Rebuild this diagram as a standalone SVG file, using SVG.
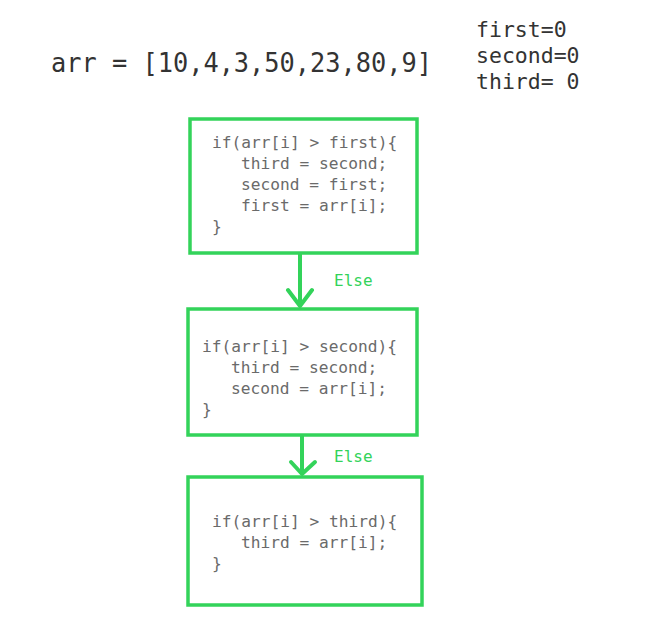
<svg xmlns="http://www.w3.org/2000/svg" width="647" height="631" viewBox="0 0 647 631">
<style>
.box{fill:#ffffff;stroke:#33d35a;stroke-width:3.5}
.code{font-family:"DejaVu Sans Mono","Liberation Mono",monospace;font-size:16.2px;fill:#6a6a6a}
.hdr{font-family:"DejaVu Sans Mono","Liberation Mono",monospace;fill:#333333}
.lbl{font-family:"DejaVu Sans Mono","Liberation Mono",monospace;font-size:16px;fill:#33d35a}
.conn{fill:none;stroke:#33d35a;stroke-width:4;stroke-linecap:round;stroke-linejoin:round}
</style>
<rect width="647" height="631" fill="#ffffff"/>
<g id="header">
<text class="hdr" x="51" y="72" font-size="26" textLength="381" lengthAdjust="spacingAndGlyphs">arr = [10,4,3,50,23,80,9]</text>
<text class="hdr" x="476" y="37" font-size="21.5">first=0</text>
<text class="hdr" x="476" y="63" font-size="21.5">second=0</text>
<text class="hdr" x="476" y="89" font-size="21.5">third= 0</text>
</g>
<g id="connectors">
<path class="conn" d="M300 254 V306 M288 290 L300 306 L312 290"/>
<path class="conn" d="M302 436 V474 M291 462 L302 474 L315 462"/>
<text class="lbl" x="334" y="286">Else</text>
<text class="lbl" x="334" y="462">Else</text>
</g>
<g id="node1">
<rect class="box" x="190" y="119" width="227" height="134"/>
<text class="code" x="212" y="148">if(arr[i] &gt; first){</text>
<text class="code" x="241" y="169">third = second;</text>
<text class="code" x="241" y="190">second = first;</text>
<text class="code" x="241" y="211">first = arr[i];</text>
<text class="code" x="212" y="232">}</text>
</g>
<g id="node2">
<rect class="box" x="188" y="309" width="229" height="126"/>
<text class="code" x="202" y="352">if(arr[i] &gt; second){</text>
<text class="code" x="231" y="373">third = second;</text>
<text class="code" x="231" y="394">second = arr[i];</text>
<text class="code" x="202" y="415">}</text>
</g>
<g id="node3">
<rect class="box" x="188" y="477" width="234" height="128"/>
<text class="code" x="212" y="527">if(arr[i] &gt; third){</text>
<text class="code" x="241" y="548">third = arr[i];</text>
<text class="code" x="212" y="569">}</text>
</g>
</svg>
